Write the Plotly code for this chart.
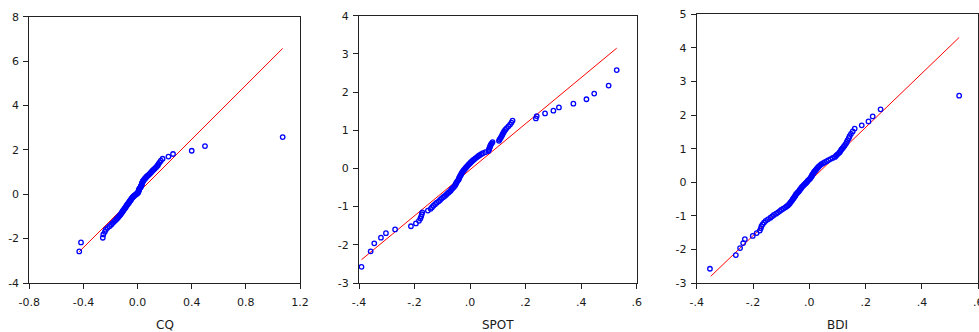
import plotly.graph_objects as go

# Theoretical normal quantiles (y axis), shared by all panels
theo_q = [
    -2.576, -2.170, -1.960, -1.812, -1.695, -1.598, -1.514, -1.440, -1.372, -1.311,
    -1.254, -1.200, -1.150, -1.103, -1.058, -1.015, -0.974, -0.935, -0.896, -0.860,
    -0.824, -0.789, -0.755, -0.722, -0.690, -0.659, -0.628, -0.598, -0.568, -0.539,
    -0.510, -0.482, -0.454, -0.426, -0.399, -0.372, -0.345, -0.319, -0.292, -0.266,
    -0.240, -0.215, -0.189, -0.164, -0.138, -0.113, -0.088, -0.063, -0.038, -0.013,
    0.013, 0.038, 0.063, 0.088, 0.113, 0.138, 0.164, 0.189, 0.215, 0.240,
    0.266, 0.292, 0.319, 0.345, 0.372, 0.399, 0.426, 0.454, 0.482, 0.510,
    0.539, 0.568, 0.598, 0.628, 0.659, 0.690, 0.722, 0.755, 0.789, 0.824,
    0.860, 0.896, 0.935, 0.974, 1.015, 1.058, 1.103, 1.150, 1.200, 1.254,
    1.311, 1.372, 1.440, 1.514, 1.598, 1.695, 1.812, 1.960, 2.170, 2.576,
]

# Empirical quantiles (x axis)
cq_q = [
    -0.431, -0.418, -0.257, -0.253, -0.242, -0.235, -0.222, -0.207, -0.195, -0.186,
    -0.177, -0.168, -0.160, -0.153, -0.146, -0.140, -0.134, -0.129, -0.124, -0.120,
    -0.116, -0.112, -0.108, -0.105, -0.101, -0.097, -0.093, -0.090, -0.087, -0.084,
    -0.081, -0.078, -0.074, -0.071, -0.067, -0.064, -0.061, -0.058, -0.055, -0.052,
    -0.049, -0.046, -0.043, -0.040, -0.036, -0.033, -0.029, -0.024, -0.018, -0.013,
    -0.008, -0.003, 0.002, 0.005, 0.006, 0.007, 0.008, 0.009, 0.011, 0.013,
    0.016, 0.019, 0.022, 0.025, 0.026, 0.028, 0.029, 0.031, 0.032, 0.034,
    0.036, 0.038, 0.041, 0.044, 0.048, 0.052, 0.057, 0.062, 0.067, 0.072,
    0.079, 0.086, 0.092, 0.098, 0.104, 0.110, 0.118, 0.126, 0.134, 0.142,
    0.150, 0.155, 0.163, 0.172, 0.185, 0.228, 0.262, 0.400, 0.498, 1.072,
]
spot_q = [
    -0.391, -0.358, -0.345, -0.321, -0.303, -0.270, -0.213, -0.195, -0.184, -0.179,
    -0.176, -0.174, -0.172, -0.152, -0.142, -0.137, -0.132, -0.126, -0.120, -0.113,
    -0.108, -0.103, -0.097, -0.091, -0.086, -0.082, -0.077, -0.072, -0.069, -0.066,
    -0.062, -0.058, -0.055, -0.053, -0.051, -0.049, -0.047, -0.044, -0.041, -0.040,
    -0.039, -0.037, -0.035, -0.033, -0.031, -0.029, -0.027, -0.025, -0.022, -0.019,
    -0.016, -0.013, -0.010, -0.007, -0.004, 0.000, 0.003, 0.007, 0.011, 0.015,
    0.019, 0.024, 0.029, 0.034, 0.040, 0.046, 0.055, 0.066, 0.067, 0.069,
    0.070, 0.072, 0.073, 0.075, 0.078, 0.081, 0.104, 0.106, 0.109, 0.112,
    0.115, 0.117, 0.120, 0.123, 0.127, 0.132, 0.138, 0.144, 0.149, 0.153,
    0.237, 0.240, 0.270, 0.300, 0.320, 0.372, 0.419, 0.447, 0.499, 0.528,
]
bdi_q = [
    -0.353, -0.261, -0.246, -0.235, -0.229, -0.201, -0.187, -0.176, -0.172, -0.170,
    -0.166, -0.161, -0.155, -0.147, -0.138, -0.132, -0.126, -0.118, -0.111, -0.105,
    -0.100, -0.093, -0.086, -0.081, -0.076, -0.072, -0.069, -0.067, -0.064, -0.061,
    -0.059, -0.057, -0.054, -0.052, -0.050, -0.048, -0.046, -0.043, -0.040, -0.037,
    -0.035, -0.033, -0.030, -0.028, -0.026, -0.023, -0.020, -0.017, -0.014, -0.011,
    -0.008, -0.006, -0.003, 0.000, 0.003, 0.005, 0.007, 0.009, 0.010, 0.012,
    0.014, 0.016, 0.018, 0.021, 0.024, 0.026, 0.029, 0.032, 0.035, 0.039,
    0.043, 0.049, 0.055, 0.062, 0.068, 0.075, 0.083, 0.091, 0.095, 0.099,
    0.104, 0.108, 0.111, 0.114, 0.118, 0.122, 0.126, 0.130, 0.133, 0.136,
    0.140, 0.143, 0.148, 0.154, 0.161, 0.186, 0.210, 0.225, 0.253, 0.532,
]

# Reference (red) lines: endpoints
cq_line_x = [-0.431, 1.072]
cq_line_y = [-2.59, 6.57]
spot_line_x = [-0.391, 0.528]
spot_line_y = [-2.39, 3.15]
bdi_line_x = [-0.350, 0.532]
bdi_line_y = [-2.80, 4.31]

titles = ["CQ", "SPOT", "BDI"]

cq_xticks = [-0.8, -0.4, 0.0, 0.4, 0.8, 1.2]
cq_xtext = ["-0.8", "-0.4", "0.0", "0.4", "0.8", "1.2"]
sb_xticks = [-0.4, -0.2, 0.0, 0.2, 0.4, 0.6]
sb_xtext = ["-.4", "-.2", ".0", ".2", ".4", ".6"]
cq_yticks = [-4, -2, 0, 2, 4, 6, 8]
spot_yticks = [-3, -2, -1, 0, 1, 2, 3, 4]
bdi_yticks = [-3, -2, -1, 0, 1, 2, 3, 4, 5]

W, H = 979, 332
fig = go.Figure()

panels = [
    (cq_q, cq_line_x, cq_line_y, "x", "y"),
    (spot_q, spot_line_x, spot_line_y, "x2", "y2"),
    (bdi_q, bdi_line_x, bdi_line_y, "x3", "y3"),
]
for qx, lx, ly, xa, ya in panels:
    fig.add_trace(go.Scatter(x=lx, y=ly, mode="lines", xaxis=xa, yaxis=ya,
                             line=dict(color="#ff0000", width=1), showlegend=False,
                             hoverinfo="skip"))
    fig.add_trace(go.Scatter(x=qx, y=theo_q, mode="markers", xaxis=xa, yaxis=ya,
                             marker=dict(symbol="circle-open", size=4.5, color="#0000ff",
                                         line=dict(width=1.3, color="#0000ff")),
                             showlegend=False))

font = dict(family="DejaVu Sans, Arial, sans-serif", size=11, color="#1a1a1a")
xdom = [(29.3, 300.0), (359.0, 636.7), (696.7, 978.3)]
ytop = [16.7, 15.7, 14.3]
ybot = 283.0

def ax_common():
    return dict(showline=True, linecolor="#222222", linewidth=1, mirror=True,
                ticks="outside", ticklen=5, tickcolor="#222222", tickwidth=1,
                showgrid=False, zeroline=False, tickfont=font, automargin=False,
                ticklabeloverflow="allow")

layout = dict(width=W, height=H, margin=dict(l=0, r=0, t=0, b=0, autoexpand=False),
              paper_bgcolor="white", plot_bgcolor="white", font=font, showlegend=False)

xranges = [[-0.8, 1.2], [-0.4, 0.6], [-0.4, 0.6]]
yranges = [[-4, 8], [-3, 4], [-3, 5]]
xtv = [(cq_xticks, cq_xtext), (sb_xticks, sb_xtext), (sb_xticks, sb_xtext)]
ytv = [cq_yticks, spot_yticks, bdi_yticks]

for i in range(3):
    sfx = "" if i == 0 else str(i + 1)
    xa = ax_common()
    xa.update(domain=[xdom[i][0] / W, xdom[i][1] / W], range=xranges[i],
              tickvals=xtv[i][0], ticktext=xtv[i][1], anchor="y" + sfx,
              ticklabelstandoff=4)
    ya = ax_common()
    ya.update(domain=[(H - ybot) / H, (H - ytop[i]) / H], range=yranges[i],
              tickvals=ytv[i], ticktext=[str(v) for v in ytv[i]], anchor="x" + sfx,
              ticklabelstandoff=2)
    layout["xaxis" + sfx] = xa
    layout["yaxis" + sfx] = ya

annotations = []
for i, t in enumerate(titles):
    annotations.append(dict(text=t, x=(xdom[i][0] + xdom[i][1]) / 2 / W, y=(H - 325) / H,
                            xref="paper", yref="paper", showarrow=False,
                            xanchor="center", yanchor="middle",
                            font=dict(family="DejaVu Sans, Arial, sans-serif", size=12,
                                      color="#1a1a1a")))
layout["annotations"] = annotations

fig.update_layout(**layout)
fig.write_html("out.html", config={"displayModeBar": False},
               post_script="document.body.style.margin='0px';document.body.style.overflow='hidden';")
